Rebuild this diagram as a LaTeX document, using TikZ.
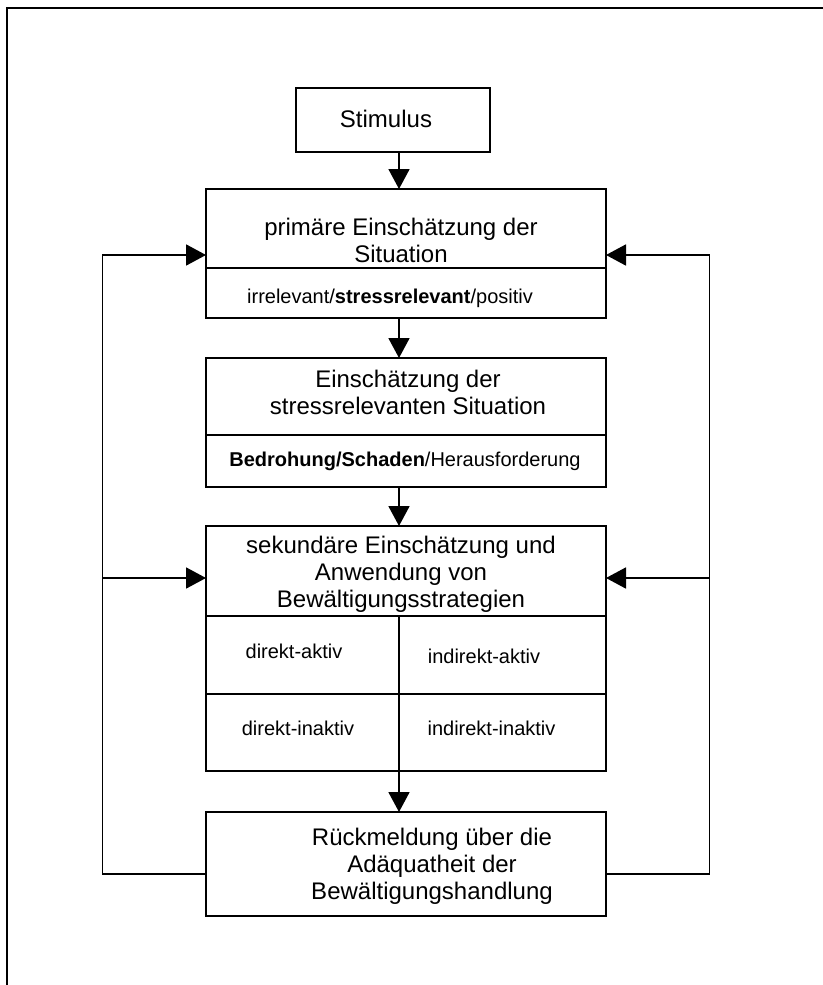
\documentclass[tikz,border=0pt]{standalone}
\usepackage{fontspec}
\setmainfont{Liberation Sans}
\usetikzlibrary{arrows.meta}

\begin{document}
\begin{tikzpicture}[x=0.5pt,y=-0.5pt]
 \begin{scope}[line width=0.9pt,black,
   box/.style={draw,rectangle,inner sep=0pt,outer sep=0pt},
   big/.style={align=center,font=\fontsize{12}{13.5}\selectfont},
   small/.style={font=\fontsize{10}{12}\selectfont},
   arr/.style={-{Triangle[length=10pt,width=10.5pt]}}]
   \useasboundingbox (0,0) rectangle (823,985);
   %Rahmen
   \draw (823,8) -- (7,8) -- (7,985);

   \coordinate (lx) at (102.5,0);
   \coordinate (rx) at (709.5,0);
   \coordinate (mid) at (399,0);
   \coordinate (fbl) at (206,874);
   \coordinate (fbr) at (606,874);
   \coordinate (inl1) at (206,255);
   \coordinate (inr1) at (606,255);
   \coordinate (inl2) at (206,578);
   \coordinate (inr2) at (606,578);

   %Stimulus
   \node[box,minimum width=97pt,minimum height=32pt] (stim) at (393,120) {};
   \node[big] (stimtxt) at (386,119) {Stimulus};

   %primaere Einschaetzung
   \node[box,minimum width=200pt,minimum height=39.5pt] (prim) at (406,228.5) {};
   \node[box,minimum width=200pt,minimum height=25pt] (primres) at (406,293) {};
   \node[big] (primtxt) at (401,240) {primäre Einschätzung der\\Situation};
   \node[small] (primrestxt) at (390,298) {irrelevant/\textbf{stressrelevant}/positiv};

   %Einschaetzung der stressrelevanten Situation
   \node[box,minimum width=200pt,minimum height=38.5pt] (eval) at (406,396.5) {};
   \node[box,minimum width=200pt,minimum height=26pt] (evalres) at (406,461) {};
   \node[big] (evaltxt) at (408,392.5) {Einschätzung der\\stressrelevanten Situation};
   \node[small] (evalrestxt) at (405,461.5) {\textbf{Bedrohung/Schaden}/Herausforderung};

   %sekundaere Einschaetzung
   \node[box,minimum width=200pt,minimum height=45pt] (sec) at (406,571) {};
   \node[big] (sectxt) at (401,574.5) {sekundäre Einschätzung und\\Anwendung von\\Bewältigungsstrategien};
   \node[box,minimum width=96.5pt,minimum height=39pt] (da) at (302.5,655) {};
   \node[box,minimum width=103.5pt,minimum height=39pt] (ia) at (502.5,655) {};
   \node[box,minimum width=96.5pt,minimum height=38.5pt] (di) at (302.5,732.5) {};
   \node[box,minimum width=103.5pt,minimum height=38.5pt] (ii) at (502.5,732.5) {};
   \node[small] (datxt) at (294,651.5) {direkt-aktiv};
   \node[small] (iatxt) at (484,656.5) {indirekt-aktiv};
   \node[small] (ditxt) at (298,728) {direkt-inaktiv};
   \node[small] (iitxt) at (491.5,728) {indirekt-inaktiv};

   %Rueckmeldung
   \node[box,minimum width=200pt,minimum height=52pt] (fb) at (406,864) {};
   \node[big] (fbtxt) at (432,866) {Rückmeldung über die\\Adäquatheit der\\Bewältigungshandlung};

   %Pfeile
   \draw[arr] (stim.south -| mid) -- (prim.north -| mid);
   \draw[arr] (primres.south -| mid) -- (eval.north -| mid);
   \draw[arr] (evalres.south -| mid) -- (sec.north -| mid);
   \draw[arr] (di.south east) -- (fb.north -| di.south east);

   %Rueckkopplung
   \draw[arr] (fbl) -- (lx |- fbl) -- (lx |- inl1) -- (inl1);
   \draw[arr] (lx |- inl2) -- (inl2);
   \draw[arr] (fbr) -- (rx |- fbr) -- (rx |- inr1) -- (inr1);
   \draw[arr] (rx |- inr2) -- (inr2);
 \end{scope}
\end{tikzpicture}
\end{document}
